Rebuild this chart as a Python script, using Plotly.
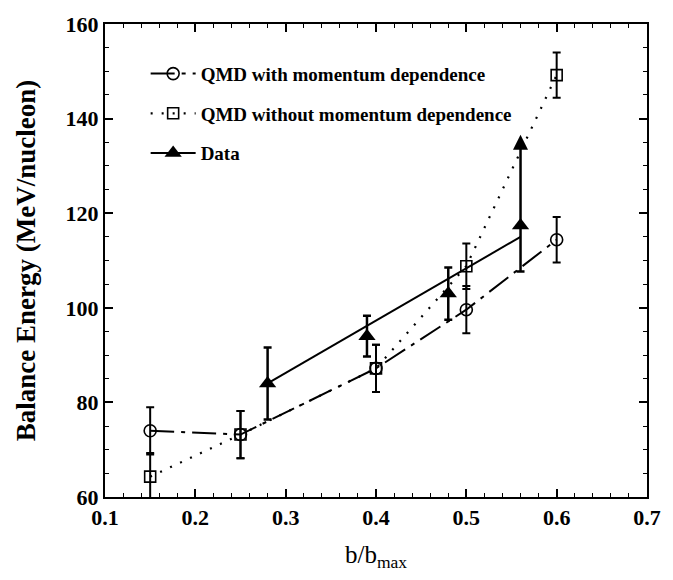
import plotly.graph_objects as go

# ---- data ----
b_qmd = [0.15, 0.25, 0.40, 0.50, 0.60]
e_mom = [74.0, 73.2, 87.2, 99.6, 114.4]
e_mom_err = [5.0, 5.0, 5.0, 5.0, 4.8]
e_nomom = [64.3, 73.2, 87.2, 108.8, 149.2]
e_nomom_err = [5.0, 5.0, 5.0, 4.8, 4.8]

b_data = [0.28, 0.39, 0.48, 0.56]
e_data = [84.0, 94.0, 103.0, 117.4]
e_data_plus = [7.6, 4.3, 5.5, 0.0]
e_data_minus = [7.6, 4.3, 5.5, 9.7]
e_data_arrow_to = [None, None, None, 136.6]   # lower-limit arrow end

fit_b = [0.28, 0.56]
fit_e = [84.0, 115.0]

x_ticks = [0.1, 0.2, 0.3, 0.4, 0.5, 0.6, 0.7]
y_ticks = [60, 80, 100, 120, 140, 160]

SERIF = "Liberation Serif, Times New Roman, serif"

fig = go.Figure()

# QMD with momentum dependence
fig.add_trace(go.Scatter(
    x=b_qmd, y=e_mom, mode="lines+markers",
    name="QMD with momentum dependence", legendrank=1, legendgroup="a",
    line=dict(color="black", width=2, dash="24px,7px,4px,7px"),
    marker=dict(symbol="circle-open", size=12, color="black", line=dict(width=1.6)),
    error_y=dict(type="data", array=e_mom_err, color="black", thickness=2, width=4),
))
# QMD without momentum dependence
fig.add_trace(go.Scatter(
    x=b_qmd, y=e_nomom, mode="lines+markers",
    name="QMD without momentum dependence", legendrank=2, legendgroup="b",
    line=dict(color="black", width=2.2, dash="2px,9px"),
    marker=dict(symbol="square-open", size=11, color="black", line=dict(width=1.6)),
    error_y=dict(type="data", array=e_nomom_err, color="black", thickness=2, width=4),
))
# Data fit line
fig.add_trace(go.Scatter(
    x=fit_b, y=fit_e, mode="lines", showlegend=False,
    line=dict(color="black", width=2),
))
# Data points
fig.add_trace(go.Scatter(
    x=b_data, y=e_data, mode="markers", showlegend=False,
    marker=dict(symbol="triangle-up", size=15, color="black"),
    error_y=dict(type="data", symmetric=False, array=e_data_plus,
                 arrayminus=e_data_minus, color="black", thickness=2.5, width=4),
))
# legend entry for Data
fig.add_trace(go.Scatter(
    x=[None], y=[None], mode="lines+markers", name="Data",
    legendrank=3, legendgroup="c",
    line=dict(color="black", width=2),
    marker=dict(symbol="triangle-up", size=15, color="black"),
))

# lower-limit arrows
for bx, ey, ea in zip(b_data, e_data, e_data_arrow_to):
    if ea is not None:
        fig.add_annotation(x=bx, y=ea, ax=bx, ay=ey, xref="x", yref="y",
                           axref="x", ayref="y", showarrow=True, text="",
                           arrowhead=2, arrowsize=1.2, arrowwidth=2.5,
                           arrowcolor="black")

axis_common = dict(
    showline=True, linecolor="black", linewidth=2, mirror="ticks",
    ticks="inside", ticklen=8, tickwidth=1.5, tickcolor="black",
    showgrid=False, zeroline=False,
    tickfont=dict(family=SERIF, size=22, color="black", weight="bold"),
)

fig.update_xaxes(
    range=[0.1, 0.7], tickvals=x_ticks, tickformat=".1f",
    minor=dict(dtick=0.02, ticks="inside", ticklen=4, tickwidth=1.2, tickcolor="black"),
    title=dict(text="b/b<sub>max</sub>", standoff=16,
               font=dict(family=SERIF, size=25, color="black")),
    **axis_common,
)
fig.update_yaxes(
    range=[60, 160], tickvals=y_ticks,
    minor=dict(dtick=5, ticks="inside", ticklen=4, tickwidth=1.2, tickcolor="black"),
    title=dict(text="Balance Energy (MeV/nucleon)", standoff=22,
               font=dict(family=SERIF, size=27, color="black", weight="bold")),
    **axis_common,
)

fig.update_layout(
    width=673, height=580,
    margin=dict(l=105, r=17, t=20, b=83),
    paper_bgcolor="white", plot_bgcolor="white",
    legend=dict(x=0.075, y=0.935, xanchor="left", yanchor="top",
                bgcolor="rgba(0,0,0,0)", tracegroupgap=12, itemwidth=45,
                font=dict(family=SERIF, size=19, color="black", weight="bold")),
    showlegend=True,
)

fig.write_html("out.html")
